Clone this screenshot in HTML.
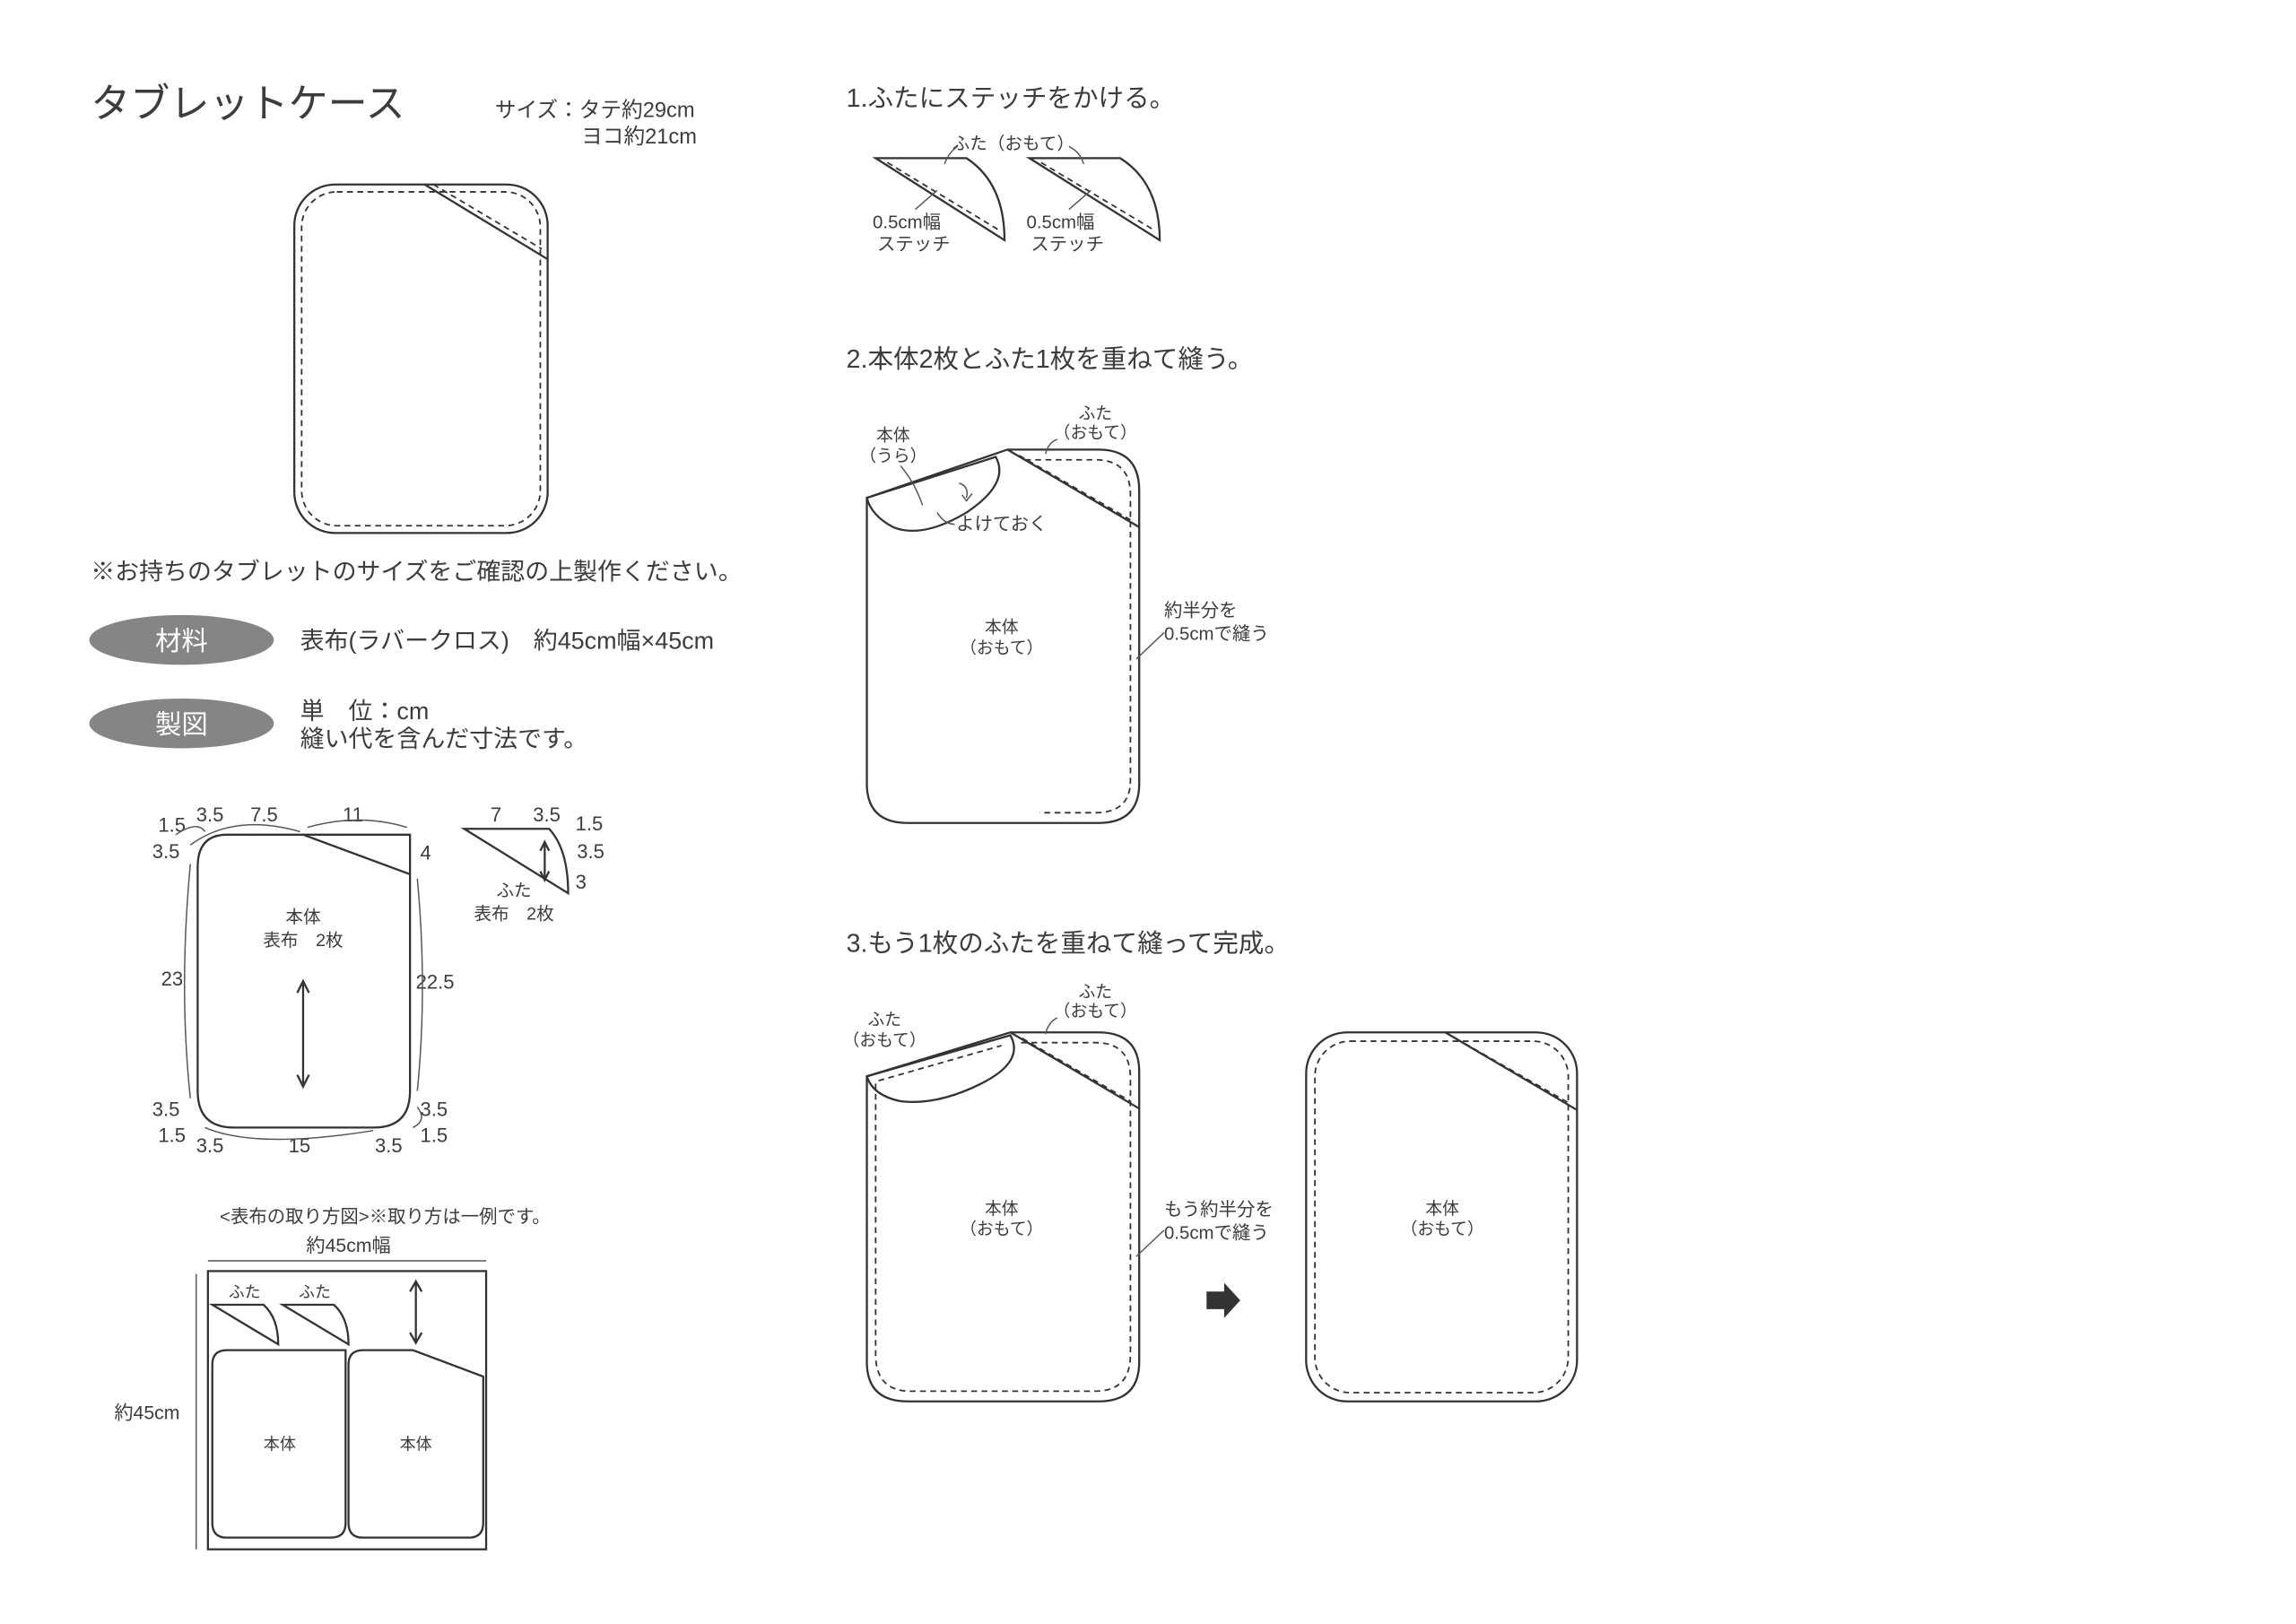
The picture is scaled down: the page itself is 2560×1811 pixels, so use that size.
<!DOCTYPE html>
<html><head><meta charset="utf-8">
<style>
html,body{margin:0;padding:0;background:#fff;}
svg{display:block;}
text{font-family:"Liberation Sans","Noto Sans CJK JP",sans-serif;fill:#3c3c3c;}
.l{fill:none;stroke:#333;stroke-width:1.4;}
.d{fill:none;stroke:#333;stroke-width:1.1;stroke-dasharray:4 3;}
.t{fill:none;stroke:#555;stroke-width:0.9;}
</style></head><body>
<svg width="2560" height="1811" viewBox="0 0 1568 1109" preserveAspectRatio="none" xmlns="http://www.w3.org/2000/svg">
<rect width="1568" height="1109" fill="#fff"/>
<text x="62" y="80" font-size="27" fill="#444">タブレットケース</text>
<text x="338" y="80" font-size="14.5">サイズ：タテ約29cm</text>
<text x="397" y="98" font-size="14.5">ヨコ約21cm</text>
<rect class="l" x="201" y="126" width="173" height="238" rx="28"/>
<rect class="d" x="206" y="131" width="163" height="228" rx="24"/>
<line class="l" x1="290" y1="126" x2="374" y2="177"/>
<line class="d" x1="296" y1="126" x2="370" y2="170"/>
<text x="62" y="396" font-size="16.5">※お持ちのタブレットのサイズをご確認の上製作ください。</text>
<ellipse cx="124" cy="437" rx="63" ry="17" fill="#858585"/>
<text x="124" y="444" font-size="18" text-anchor="middle" style="fill:#fff">材料</text>
<ellipse cx="124" cy="494" rx="63" ry="17" fill="#858585"/>
<text x="124" y="501" font-size="18" text-anchor="middle" style="fill:#fff">製図</text>
<text x="205" y="443" font-size="16.5">表布(ラバークロス)　約45cm幅×45cm</text>
<text x="205" y="491" font-size="16.5">単　位：cm</text>
<text x="205" y="510" font-size="16.5">縫い代を含んだ寸法です。</text>
<path class="l" d="M155,570 L207,570 L280,597 L280,745 Q280,770 255,770 L160,770 Q135,770 135,745 L135,592 Q135,570 155,570 Z"/>
<path class="l" d="M207,570 L280,570 L280,597"/>
<text x="207" y="630" font-size="12" text-anchor="middle">本体</text>
<text x="207" y="646" font-size="12" text-anchor="middle">表布　2枚</text>
<line class="l" x1="207" y1="672" x2="207" y2="740"/>
<path d="M203,678 L207,670 L211,678 M203,734 L207,742 L211,734" class="l"/>
<g font-size="13.5">
<text x="108" y="568">1.5</text><text x="134" y="561">3.5</text><text x="171" y="561">7.5</text><text x="234" y="561">11</text>
<text x="104" y="586">3.5</text><text x="287" y="587">4</text>
<text x="110" y="673">23</text><text x="284" y="675">22.5</text>
<text x="104" y="762">3.5</text><text x="108" y="780">1.5</text><text x="134" y="787">3.5</text><text x="197" y="787">15</text><text x="256" y="787">3.5</text>
<text x="287" y="762">3.5</text><text x="287" y="780">1.5</text>
</g>
<path class="t" d="M120,570 Q135,560 140,568 M130,577 Q160,555 205,568 M210,565 Q245,555 278,565 M130,590 Q122,675 130,750 M285,600 Q292,675 285,745 M140,770 Q175,785 255,772 M285,756 Q292,765 282,770"/>
<path class="l" d="M317,566 L375,566 Q388,580 388,610 Z"/>
<line class="l" x1="372" y1="576" x2="372" y2="600"/>
<path class="l" d="M369,581 L372,575 L375,581 M369,595 L372,601 L375,595"/>
<g font-size="13.5"><text x="335" y="561">7</text><text x="364" y="561">3.5</text><text x="393" y="567">1.5</text><text x="394" y="586">3.5</text><text x="393" y="607">3</text></g>
<text x="351" y="612" font-size="12" text-anchor="middle">ふた</text>
<text x="351" y="628" font-size="12" text-anchor="middle">表布　2枚</text>
<text x="263" y="835" font-size="12.5" text-anchor="middle">&lt;表布の取り方図&gt;※取り方は一例です。</text>
<text x="238" y="855" font-size="13" text-anchor="middle">約45cm幅</text>
<line class="t" x1="142" y1="861" x2="332" y2="861"/>
<line class="t" x1="134" y1="870" x2="134" y2="1058"/>
<text x="78" y="969" font-size="13">約45cm</text>
<rect class="l" x="142" y="868" width="190" height="190"/>
<text x="167" y="886" font-size="11" text-anchor="middle">ふた</text>
<text x="215" y="886" font-size="11" text-anchor="middle">ふた</text>
<path class="l" d="M145,891 L180,891 Q190,900 190,918 Z"/>
<path class="l" d="M193,891 L228,891 Q238,900 238,918 Z"/>
<line class="l" x1="284" y1="876" x2="284" y2="916"/>
<path class="l" d="M280,882 L284,875 L288,882 M280,910 L284,917 L288,910"/>
<path class="l" d="M155,922 L236,922 L236,1040 Q236,1050 226,1050 L155,1050 Q145,1050 145,1040 L145,932 Q145,922 155,922 Z"/>
<path class="l" d="M248,922 L282,922 L330,940 L330,1040 Q330,1050 320,1050 L248,1050 Q238,1050 238,1040 L238,932 Q238,922 248,922 Z"/>
<text x="191" y="990" font-size="11" text-anchor="middle">本体</text>
<text x="284" y="990" font-size="11" text-anchor="middle">本体</text>
<text x="578" y="73" font-size="17.5">1.ふたにステッチをかける。</text>
<path class="l" d="M598,108 L660,108 Q686,125 686,164 Z"/>
<line class="d" x1="606" y1="111" x2="682" y2="157"/>
<path class="l" d="M703,108 L765,108 Q792,125 792,164 Z"/>
<line class="d" x1="711" y1="111" x2="788" y2="157"/>
<text x="692" y="102" font-size="12" text-anchor="middle">ふた（おもて）</text>
<path class="t" d="M654,100 Q648,104 645,112 M730,100 Q738,104 740,112"/>
<text x="596" y="156" font-size="12.5">0.5cm幅</text><text x="599" y="171" font-size="12.5">ステッチ</text>
<text x="701" y="156" font-size="12.5">0.5cm幅</text><text x="704" y="171" font-size="12.5">ステッチ</text>
<path class="t" d="M625,143 L640,130 M730,143 L745,130"/>
<text x="578" y="251" font-size="17.5">2.本体2枚とふた1枚を重ねて縫う。</text>
<path class="l" d="M592,340 L592,535 Q592,562 620,562 L750,562 Q778,562 778,535 L778,335 Q778,307 750,307 L688,307 Z"/>
<path class="d" d="M700,314 L748,314 Q772,314 772,338 L772,533 Q772,555 748,555 L710,555"/>
<line class="l" x1="688" y1="307" x2="778" y2="360"/>
<line class="d" x1="696" y1="311" x2="772" y2="355"/>
<path class="l" d="M592,340 L680,312 Q690,330 660,350 Q630,368 610,360 Q595,352 592,340 Z" fill="#fff"/>
<path class="t" d="M655,330 Q662,332 660,340 M657,338 L660,342 L664,337"/>
<text x="610" y="301" font-size="11.5" text-anchor="middle">本体</text>
<text x="610" y="315" font-size="11.5" text-anchor="middle">（うら）</text>
<path class="t" d="M615,318 Q625,330 630,345"/>
<text x="748" y="286" font-size="11.5" text-anchor="middle">ふた</text>
<text x="748" y="299" font-size="11.5" text-anchor="middle">（おもて）</text>
<path class="t" d="M722,300 Q716,302 714,310"/>
<text x="653" y="362" font-size="12.5">よけておく</text>
<path class="t" d="M640,350 Q645,358 652,358"/>
<text x="684" y="432" font-size="11.5" text-anchor="middle">本体</text>
<text x="684" y="446" font-size="11.5" text-anchor="middle">（おもて）</text>
<text x="795" y="421" font-size="12.5">約半分を</text>
<text x="795" y="437" font-size="12.5">0.5cmで縫う</text>
<path class="t" d="M795,432 L776,450"/>
<text x="578" y="650" font-size="17.5">3.もう1枚のふたを重ねて縫って完成。</text>
<path class="l" d="M592,735 L592,930 Q592,957 620,957 L750,957 Q778,957 778,930 L778,732 Q778,705 750,705 L690,705 Z"/>
<path class="d" d="M598,740 L598,925 Q598,950 622,950 L748,950 Q772,950 772,925 L772,736 Q772,712 748,712 L695,712"/>
<line class="l" x1="690" y1="705" x2="778" y2="757"/>
<line class="d" x1="698" y1="709" x2="772" y2="752"/>
<path class="l" d="M592,735 L690,707 Q700,725 670,740 Q640,755 615,752 Q596,748 592,735 Z" fill="#fff"/>
<line class="d" x1="600" y1="738" x2="684" y2="714"/>
<text x="604" y="700" font-size="11.5" text-anchor="middle">ふた</text>
<text x="604" y="714" font-size="11.5" text-anchor="middle">（おもて）</text>
<text x="748" y="681" font-size="11.5" text-anchor="middle">ふた</text>
<text x="748" y="694" font-size="11.5" text-anchor="middle">（おもて）</text>
<path class="t" d="M722,695 Q716,698 714,706"/>
<text x="684" y="829" font-size="11.5" text-anchor="middle">本体</text>
<text x="684" y="843" font-size="11.5" text-anchor="middle">（おもて）</text>
<text x="795" y="830" font-size="12.5">もう約半分を</text>
<text x="795" y="846" font-size="12.5">0.5cmで縫う</text>
<path class="t" d="M795,840 L776,858"/>
<path d="M824,882 L836,882 L836,876 L847,888 L836,900 L836,894 L824,894 Z" fill="#333"/>
<rect class="l" x="892" y="705" width="185" height="252" rx="28"/>
<rect class="d" x="898" y="711" width="173" height="240" rx="24"/>
<line class="l" x1="987" y1="705" x2="1077" y2="758"/>
<line class="d" x1="994" y1="709" x2="1071" y2="753"/>
<text x="985" y="829" font-size="11.5" text-anchor="middle">本体</text>
<text x="985" y="843" font-size="11.5" text-anchor="middle">（おもて）</text>
</svg>
</body></html>
